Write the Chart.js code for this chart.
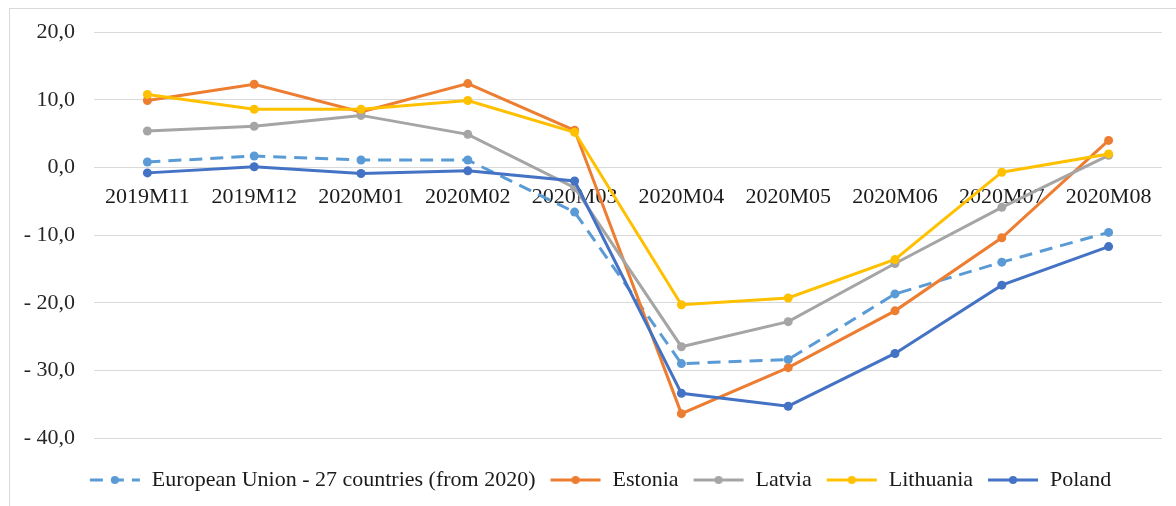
<!DOCTYPE html>
<html>
<head>
<meta charset="utf-8">
<script src="https://cdn.jsdelivr.net/npm/chart.js@4/dist/chart.umd.min.js"></script>
<style>
  html, body { margin: 0; padding: 0; background: #ffffff; }
  #wrap { position: relative; width: 1176px; height: 506px; }
  #frame { position: absolute; left: 9px; top: 8px; width: 1200px; height: 540px; border: 1px solid #d9d9d9; box-sizing: border-box; pointer-events: none; }
</style>
</head>
<body>
<div id="wrap">
  <canvas id="chart" width="1176" height="506"></canvas>
  <div id="frame"></div>
</div>
<script>
// Month-on-month change, %, Nov 2019 – Aug 2020
const months = ['2019M11', '2019M12', '2020M01', '2020M02', '2020M03',
                '2020M04', '2020M05', '2020M06', '2020M07', '2020M08'];

const eu27      = [0.8, 1.7, 1.1, 1.1, -6.6, -29.0, -28.4, -18.7, -14.0, -9.6];
const estonia   = [9.9, 12.3, 8.2, 12.4, 5.5, -36.4, -29.6, -21.2, -10.4, 4.0];
const latvia    = [5.4, 6.1, 7.7, 4.9, -3.0, -26.5, -22.8, -14.2, -5.9, 1.8];
const lithuania = [10.8, 8.6, 8.6, 9.9, 5.2, -20.3, -19.3, -13.6, -0.7, 2.0];
const poland    = [-0.8, 0.1, -0.9, -0.5, -2.0, -33.4, -35.3, -27.5, -17.4, -11.7];

const seriesNames = ['European Union - 27 countries (from 2020)', 'Estonia', 'Latvia', 'Lithuania', 'Poland'];
const seriesColors = ['#5b9bd5', '#ed7d31', '#a5a5a5', '#ffc000', '#4472c4'];

const yMin = -40, yMax = 20, yStep = 10;

const serif = '"Liberation Serif", "Times New Roman", serif';
const textSize = 22;

// "12,5" style numbers, negatives written as "- 12,5"
function fmt(v) {
  const s = Math.abs(v).toFixed(1).replace('.', ',');
  return v < 0 ? '- ' + s : s;
}

// small legend swatch: a line with a round marker in the middle
function swatch(color, dashed) {
  const c = document.createElement('canvas');
  c.width = 52; c.height = 12;
  const g = c.getContext('2d');
  g.strokeStyle = color;
  g.lineWidth = 3;
  g.lineCap = 'butt';
  if (dashed) g.setLineDash([13, 8]);
  g.beginPath();
  g.moveTo(1, 6);
  g.lineTo(51, 6);
  g.stroke();
  g.setLineDash([]);
  g.fillStyle = color;
  g.beginPath();
  g.arc(26, 6, 4, 0, Math.PI * 2);
  g.fill();
  return c;
}

// nudges the centred legend row so it sits under the middle of the frame
const legendNudge = {
  id: 'legendNudge',
  afterLayout(chart, args, opts) {
    const l = chart.legend;
    if (l) { l.left += opts.dx; l.right += opts.dx; }
  }
};

const values = [eu27, estonia, latvia, lithuania, poland];
const datasets = values.map((vals, i) => ({
  label: seriesNames[i],
  data: vals,
  borderColor: seriesColors[i],
  backgroundColor: seriesColors[i],
  borderWidth: 3,
  borderDash: i === 0 ? [13, 8] : [],
  pointRadius: 4.5,
  pointBorderWidth: 0,
  pointBackgroundColor: seriesColors[i],
  pointHoverRadius: 4.5,
  tension: 0,
  order: values.length - i
}));

new Chart(document.getElementById('chart'), {
  type: 'line',
  data: { labels: months, datasets },
  plugins: [legendNudge],
  options: {
    responsive: false,
    animation: false,
    events: [],
    layout: { padding: { left: 20, right: 14, top: 28, bottom: 5 } },
    plugins: {
      tooltip: { enabled: false },
      legendNudge: { dx: 9 },
      legend: {
        display: true,
        position: 'bottom',
        title: { display: true, text: '', font: { size: 10 }, padding: { top: 5, bottom: 0 } },
        labels: {
          usePointStyle: true,
          pointStyleWidth: 52,
          padding: 14,
          color: '#1a1a1a',
          font: { family: serif, size: textSize },
          generateLabels: (chart) => chart.data.datasets.map((ds, i) => ({
            text: ds.label,
            pointStyle: swatch(ds.borderColor, i === 0),
            fillStyle: ds.borderColor,
            strokeStyle: ds.borderColor,
            lineWidth: 0,
            fontColor: '#1a1a1a',
            hidden: false,
            datasetIndex: i
          }))
        }
      }
    },
    scales: {
      x: {
        type: 'category',
        position: { y: 0 },
        offset: true,
        grid: { display: false, drawTicks: false },
        border: { display: false },
        ticks: {
          color: '#1a1a1a',
          font: { family: serif, size: textSize },
          padding: 17,
          maxRotation: 0,
          autoSkip: false
        }
      },
      y: {
        min: yMin,
        max: yMax,
        afterFit: (s) => { s.width = 74; },
        grid: { color: '#d9d9d9', lineWidth: 1, drawTicks: false },
        border: { display: false },
        ticks: {
          stepSize: yStep,
          padding: 19,
          color: '#262626',
          font: { family: serif, size: textSize },
          callback: (v) => fmt(v)
        }
      }
    }
  }
});
</script>
</body>
</html>
